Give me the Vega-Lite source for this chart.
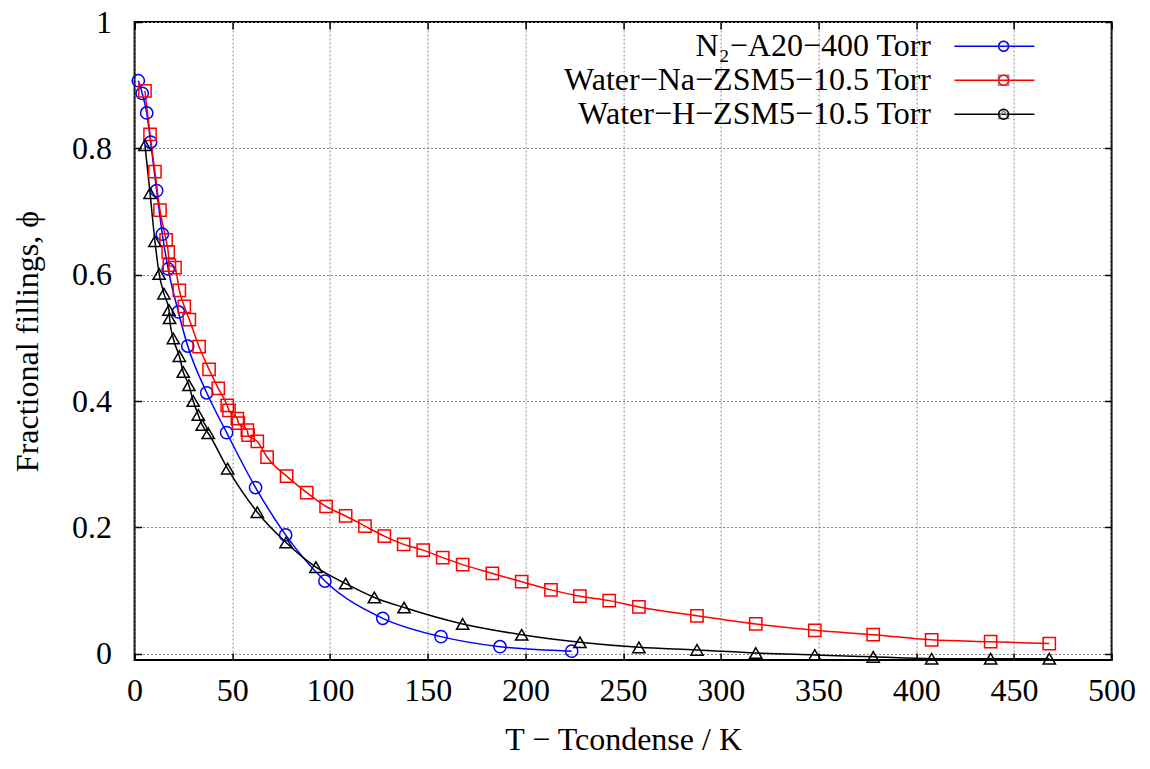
{
  "$schema": "https://vega.github.io/schema/vega-lite/v6.json",
  "width": 977,
  "height": 638,
  "autosize": {"type": "none"},
  "padding": {"left": 134.6, "top": 22, "right": 38.4, "bottom": 109},
  "background": "white",
  "config": {
    "font": "Liberation Serif",
    "view": {"stroke": "black", "strokeWidth": 2},
    "axis": {
      "labelFont": "Liberation Serif", "labelFontSize": 32, "labelColor": "black",
      "titleFont": "Liberation Serif", "titleFontSize": 32, "titleFontWeight": "normal", "titleColor": "black",
      "tickColor": "black", "tickWidth": 1.5, "tickSize": -7, "domain": false,
      "gridColor": "#888888", "gridDash": [2, 2], "gridWidth": 1, "gridOpacity": 1
    },
    "legend": {"labelFont": "Liberation Serif", "labelFontSize": 32, "labelColor": "black", "padding": 0, "rowPadding": 2, "labelLimit": 0}
  },
  "datasets": {
    "pts": [
      {"series": "N₂−A20−400 Torr", "dT": 1.9, "phi": 0.907},
      {"series": "N₂−A20−400 Torr", "dT": 3.9, "phi": 0.887},
      {"series": "N₂−A20−400 Torr", "dT": 6.2, "phi": 0.856},
      {"series": "N₂−A20−400 Torr", "dT": 8.2, "phi": 0.810},
      {"series": "N₂−A20−400 Torr", "dT": 11.3, "phi": 0.733},
      {"series": "N₂−A20−400 Torr", "dT": 14.2, "phi": 0.664},
      {"series": "N₂−A20−400 Torr", "dT": 17.2, "phi": 0.609},
      {"series": "N₂−A20−400 Torr", "dT": 22.4, "phi": 0.541},
      {"series": "N₂−A20−400 Torr", "dT": 27.2, "phi": 0.487},
      {"series": "N₂−A20−400 Torr", "dT": 36.9, "phi": 0.413},
      {"series": "N₂−A20−400 Torr", "dT": 47.1, "phi": 0.350},
      {"series": "N₂−A20−400 Torr", "dT": 61.9, "phi": 0.263},
      {"series": "N₂−A20−400 Torr", "dT": 77.3, "phi": 0.188},
      {"series": "N₂−A20−400 Torr", "dT": 97.4, "phi": 0.115},
      {"series": "N₂−A20−400 Torr", "dT": 127.0, "phi": 0.056},
      {"series": "N₂−A20−400 Torr", "dT": 156.8, "phi": 0.027},
      {"series": "N₂−A20−400 Torr", "dT": 187.0, "phi": 0.011},
      {"series": "N₂−A20−400 Torr", "dT": 223.7, "phi": 0.004},
      {"series": "Water−Na−ZSM5−10.5 Torr", "dT": 5.3, "phi": 0.891},
      {"series": "Water−Na−ZSM5−10.5 Torr", "dT": 7.9, "phi": 0.822},
      {"series": "Water−Na−ZSM5−10.5 Torr", "dT": 10.4, "phi": 0.763},
      {"series": "Water−Na−ZSM5−10.5 Torr", "dT": 13.0, "phi": 0.702},
      {"series": "Water−Na−ZSM5−10.5 Torr", "dT": 16.1, "phi": 0.655},
      {"series": "Water−Na−ZSM5−10.5 Torr", "dT": 17.2, "phi": 0.636},
      {"series": "Water−Na−ZSM5−10.5 Torr", "dT": 17.8, "phi": 0.615},
      {"series": "Water−Na−ZSM5−10.5 Torr", "dT": 20.7, "phi": 0.611},
      {"series": "Water−Na−ZSM5−10.5 Torr", "dT": 22.9, "phi": 0.575},
      {"series": "Water−Na−ZSM5−10.5 Torr", "dT": 25.4, "phi": 0.550},
      {"series": "Water−Na−ZSM5−10.5 Torr", "dT": 28.0, "phi": 0.529},
      {"series": "Water−Na−ZSM5−10.5 Torr", "dT": 33.0, "phi": 0.486},
      {"series": "Water−Na−ZSM5−10.5 Torr", "dT": 38.1, "phi": 0.450},
      {"series": "Water−Na−ZSM5−10.5 Torr", "dT": 42.8, "phi": 0.420},
      {"series": "Water−Na−ZSM5−10.5 Torr", "dT": 47.4, "phi": 0.393},
      {"series": "Water−Na−ZSM5−10.5 Torr", "dT": 48.3, "phi": 0.385},
      {"series": "Water−Na−ZSM5−10.5 Torr", "dT": 52.6, "phi": 0.372},
      {"series": "Water−Na−ZSM5−10.5 Torr", "dT": 53.1, "phi": 0.365},
      {"series": "Water−Na−ZSM5−10.5 Torr", "dT": 57.7, "phi": 0.354},
      {"series": "Water−Na−ZSM5−10.5 Torr", "dT": 58.1, "phi": 0.346},
      {"series": "Water−Na−ZSM5−10.5 Torr", "dT": 62.8, "phi": 0.336},
      {"series": "Water−Na−ZSM5−10.5 Torr", "dT": 67.8, "phi": 0.311},
      {"series": "Water−Na−ZSM5−10.5 Torr", "dT": 77.8, "phi": 0.281},
      {"series": "Water−Na−ZSM5−10.5 Torr", "dT": 88.1, "phi": 0.255},
      {"series": "Water−Na−ZSM5−10.5 Torr", "dT": 98.0, "phi": 0.233},
      {"series": "Water−Na−ZSM5−10.5 Torr", "dT": 108.0, "phi": 0.218},
      {"series": "Water−Na−ZSM5−10.5 Torr", "dT": 117.9, "phi": 0.202},
      {"series": "Water−Na−ZSM5−10.5 Torr", "dT": 127.8, "phi": 0.186},
      {"series": "Water−Na−ZSM5−10.5 Torr", "dT": 137.7, "phi": 0.173},
      {"series": "Water−Na−ZSM5−10.5 Torr", "dT": 147.7, "phi": 0.164},
      {"series": "Water−Na−ZSM5−10.5 Torr", "dT": 157.7, "phi": 0.152},
      {"series": "Water−Na−ZSM5−10.5 Torr", "dT": 167.9, "phi": 0.141},
      {"series": "Water−Na−ZSM5−10.5 Torr", "dT": 183.1, "phi": 0.127},
      {"series": "Water−Na−ZSM5−10.5 Torr", "dT": 198.1, "phi": 0.114},
      {"series": "Water−Na−ZSM5−10.5 Torr", "dT": 213.1, "phi": 0.101},
      {"series": "Water−Na−ZSM5−10.5 Torr", "dT": 227.9, "phi": 0.091},
      {"series": "Water−Na−ZSM5−10.5 Torr", "dT": 242.9, "phi": 0.084},
      {"series": "Water−Na−ZSM5−10.5 Torr", "dT": 258.1, "phi": 0.074},
      {"series": "Water−Na−ZSM5−10.5 Torr", "dT": 287.8, "phi": 0.060},
      {"series": "Water−Na−ZSM5−10.5 Torr", "dT": 317.9, "phi": 0.047},
      {"series": "Water−Na−ZSM5−10.5 Torr", "dT": 348.1, "phi": 0.037},
      {"series": "Water−Na−ZSM5−10.5 Torr", "dT": 378.0, "phi": 0.030},
      {"series": "Water−Na−ZSM5−10.5 Torr", "dT": 407.9, "phi": 0.022},
      {"series": "Water−Na−ZSM5−10.5 Torr", "dT": 438.1, "phi": 0.019},
      {"series": "Water−Na−ZSM5−10.5 Torr", "dT": 468.1, "phi": 0.016},
      {"series": "Water−H−ZSM5−10.5 Torr", "dT": 5.3, "phi": 0.805},
      {"series": "Water−H−ZSM5−10.5 Torr", "dT": 7.9, "phi": 0.729},
      {"series": "Water−H−ZSM5−10.5 Torr", "dT": 10.4, "phi": 0.653},
      {"series": "Water−H−ZSM5−10.5 Torr", "dT": 12.6, "phi": 0.601},
      {"series": "Water−H−ZSM5−10.5 Torr", "dT": 15.0, "phi": 0.570},
      {"series": "Water−H−ZSM5−10.5 Torr", "dT": 17.6, "phi": 0.544},
      {"series": "Water−H−ZSM5−10.5 Torr", "dT": 17.9, "phi": 0.531},
      {"series": "Water−H−ZSM5−10.5 Torr", "dT": 19.8, "phi": 0.499},
      {"series": "Water−H−ZSM5−10.5 Torr", "dT": 22.9, "phi": 0.471},
      {"series": "Water−H−ZSM5−10.5 Torr", "dT": 24.9, "phi": 0.446},
      {"series": "Water−H−ZSM5−10.5 Torr", "dT": 27.8, "phi": 0.425},
      {"series": "Water−H−ZSM5−10.5 Torr", "dT": 30.0, "phi": 0.400},
      {"series": "Water−H−ZSM5−10.5 Torr", "dT": 32.6, "phi": 0.378},
      {"series": "Water−H−ZSM5−10.5 Torr", "dT": 34.6, "phi": 0.362},
      {"series": "Water−H−ZSM5−10.5 Torr", "dT": 37.7, "phi": 0.349},
      {"series": "Water−H−ZSM5−10.5 Torr", "dT": 47.6, "phi": 0.293},
      {"series": "Water−H−ZSM5−10.5 Torr", "dT": 62.8, "phi": 0.224},
      {"series": "Water−H−ZSM5−10.5 Torr", "dT": 77.5, "phi": 0.176},
      {"series": "Water−H−ZSM5−10.5 Torr", "dT": 92.8, "phi": 0.137},
      {"series": "Water−H−ZSM5−10.5 Torr", "dT": 108.0, "phi": 0.111},
      {"series": "Water−H−ZSM5−10.5 Torr", "dT": 122.7, "phi": 0.089},
      {"series": "Water−H−ZSM5−10.5 Torr", "dT": 137.9, "phi": 0.073},
      {"series": "Water−H−ZSM5−10.5 Torr", "dT": 167.9, "phi": 0.047},
      {"series": "Water−H−ZSM5−10.5 Torr", "dT": 198.1, "phi": 0.030},
      {"series": "Water−H−ZSM5−10.5 Torr", "dT": 227.9, "phi": 0.018},
      {"series": "Water−H−ZSM5−10.5 Torr", "dT": 258.1, "phi": 0.010},
      {"series": "Water−H−ZSM5−10.5 Torr", "dT": 287.8, "phi": 0.006},
      {"series": "Water−H−ZSM5−10.5 Torr", "dT": 317.9, "phi": 0.001},
      {"series": "Water−H−ZSM5−10.5 Torr", "dT": 348.1, "phi": -0.002},
      {"series": "Water−H−ZSM5−10.5 Torr", "dT": 378.0, "phi": -0.005},
      {"series": "Water−H−ZSM5−10.5 Torr", "dT": 407.9, "phi": -0.008},
      {"series": "Water−H−ZSM5−10.5 Torr", "dT": 438.1, "phi": -0.008},
      {"series": "Water−H−ZSM5−10.5 Torr", "dT": 468.1, "phi": -0.008}
    ]
  },
  "data": {"name": "pts"},
  "layer": [
    {
      "mark": {"type": "line", "interpolate": "monotone", "strokeWidth": 1.5},
      "encoding": {
        "x": {
          "field": "dT", "type": "quantitative",
          "scale": {"domain": [0, 500], "nice": false, "zero": false},
          "axis": {"orient": "bottom", "values": [0, 50, 100, 150, 200, 250, 300, 350, 400, 450, 500], "grid": true,
                   "title": "T − Tcondense / K", "labelPadding": 22, "titlePadding": 18,
                   "labelFlush": false, "labelOverlap": false}
        },
        "y": {
          "field": "phi", "type": "quantitative",
          "scale": {"domain": [-0.01, 1], "nice": false, "zero": false},
          "axis": {"orient": "left", "values": [0, 0.2, 0.4, 0.6, 0.8, 1], "format": "~g", "grid": true,
                   "title": "Fractional fillings, ϕ", "labelPadding": 30, "titlePadding": 27,
                   "labelFlush": false, "labelOverlap": false}
        },
        "color": {
          "field": "series", "type": "nominal",
          "scale": {"domain": ["N₂−A20−400 Torr", "Water−Na−ZSM5−10.5 Torr", "Water−H−ZSM5−10.5 Torr"],
                    "range": ["#0000ff", "#ff0000", "#000000"]},
          "legend": {"orient": "none", "legendX": 820, "legendY": 8.2, "title": null,
                     "symbolType": "M-4,0H4", "symbolSize": 400, "symbolStrokeWidth": 1.5,
                     "symbolOffset": 23.8, "labelOffset": -79.4, "labelAlign": "right"}
        }
      }
    },
    {
      "mark": {"type": "point", "filled": false, "strokeWidth": 1.5, "size": 150, "opacity": 1},
      "encoding": {
        "x": {"field": "dT", "type": "quantitative",
              "axis": {"orient": "top", "labels": false, "grid": false, "title": null,
                       "values": [0, 50, 100, 150, 200, 250, 300, 350, 400, 450, 500]}},
        "y": {"field": "phi", "type": "quantitative",
              "axis": {"orient": "right", "labels": false, "grid": false, "title": null,
                       "values": [0, 0.2, 0.4, 0.6, 0.8, 1]}},
        "stroke": {
          "field": "series", "type": "nominal",
          "sort": ["N₂−A20−400 Torr", "Water−Na−ZSM5−10.5 Torr", "Water−H−ZSM5−10.5 Torr"],
          "scale": {"range": ["#0000ff", "#ff0000", "#000000"]},
          "legend": {"orient": "none", "legendX": 853, "legendY": 8.2, "title": null,
                     "symbolSize": 100, "symbolStrokeWidth": 1.5, "labelExpr": "''",
                     "symbolFillColor": "white"}
        },
        "shape": {
          "field": "series", "type": "nominal",
          "sort": ["N₂−A20−400 Torr", "Water−Na−ZSM5−10.5 Torr", "Water−H−ZSM5−10.5 Torr"],
          "scale": {"range": ["circle", "square", "triangle-up"]},
          "legend": {"orient": "none", "legendX": 853, "legendY": 8.2, "title": null,
                     "symbolSize": 100, "symbolStrokeWidth": 1.5, "labelExpr": "''",
                     "symbolFillColor": "white"}
        }
      }
    }
  ]
}
